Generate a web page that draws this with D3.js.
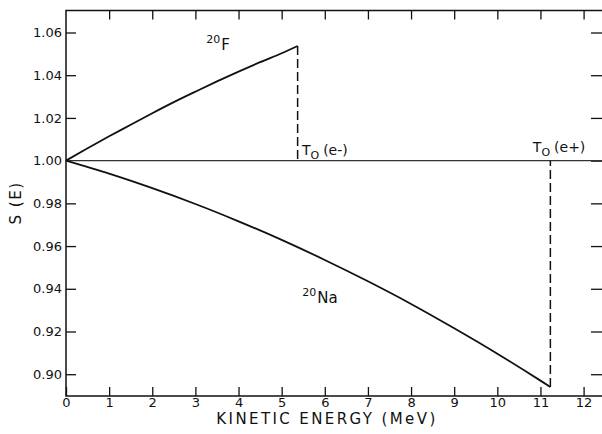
<!DOCTYPE html>
<html>
<head>
<meta charset="utf-8">
<script src="https://cdn.jsdelivr.net/npm/d3@7"></script>
<style>
  body { margin: 0; background: #fff; }
  svg { display: block; }
  text { font-family: "DejaVu Sans", sans-serif; fill: #111; }
</style>
</head>
<body>
<svg width="602" height="434"></svg>
<script>
// Data.
const xTicks = [0, 1, 2, 3, 4, 5, 6, 7, 8, 9, 10, 11, 12];
const yTicks = [0.90, 0.92, 0.94, 0.96, 0.98, 1.00, 1.02, 1.04, 1.06];

// 20F curve (electron emission), ends at T0(e-)
const fE = [0, 0.5, 1, 1.5, 2, 2.5, 3, 3.5, 4, 4.5, 5, 5.37];
const fS = [1.000, 1.0058, 1.0114, 1.0168, 1.0222, 1.0274, 1.0323, 1.0371, 1.0417, 1.0461, 1.0503, 1.0537];

// 20Na curve (positron emission), ends at T0(e+)
const naE = [0, 1, 2, 3, 4, 5, 6, 7, 8, 9, 10, 11, 11.23];
const naS = [1.000, 0.9939, 0.9871, 0.9797, 0.9716, 0.9629, 0.9535, 0.9435, 0.9329, 0.9215, 0.9096, 0.8970, 0.8940];

const svg = d3.select("svg");
const plotLeft = 66, plotRight = 603, plotTop = 10.5, plotBottom = 396;

const x = d3.scaleLinear().domain([0, 12.45]).range([plotLeft, plotRight]);
const y = d3.scaleLinear().domain([0.8898, 1.0703]).range([plotBottom, plotTop]);

const ink = "#111";

// Frame
svg.append("rect")
   .attr("x", plotLeft).attr("y", plotTop)
   .attr("width", plotRight - plotLeft).attr("height", plotBottom - plotTop)
   .attr("fill", "none").attr("stroke", ink).attr("stroke-width", 1.5);

// Bottom axis, ticks pointing inward
const xAxis = svg.append("g")
   .attr("transform", `translate(0,${plotBottom})`)
   .call(d3.axisBottom(x).tickValues(xTicks).tickSize(-9).tickPadding(2).tickFormat(d3.format("d")));
// Top ticks
const xTop = svg.append("g")
   .attr("transform", `translate(0,${plotTop})`)
   .call(d3.axisTop(x).tickValues(xTicks.slice(1)).tickSize(-9).tickFormat(""));
// Left axis
const yAxis = svg.append("g")
   .attr("transform", `translate(${plotLeft},0)`)
   .call(d3.axisLeft(y).tickValues(yTicks).tickSize(-10).tickPadding(4).tickFormat(d3.format(".2f")));
// Right ticks
const yRight = svg.append("g")
   .attr("transform", `translate(${plotRight},0)`)
   .call(d3.axisRight(y).tickValues(yTicks).tickSize(-12).tickFormat(""));

[xAxis, xTop, yAxis, yRight].forEach(g => {
  g.select(".domain").remove();
  g.attr("font-size", null).attr("font-family", null);
  g.selectAll("line").attr("stroke", ink).attr("stroke-width", 1.3);
  g.selectAll("text")
   .style("font-family", "DejaVu Sans, sans-serif")
   .style("font-size", "13px")
   .attr("fill", ink);
});
yAxis.selectAll(".tick").filter(d => d === 1.00).select("line").remove();

// Reference line S = 1
svg.append("line")
   .attr("x1", x(0)).attr("x2", plotRight)
   .attr("y1", y(1)).attr("y2", y(1))
   .attr("stroke", "#333").attr("stroke-width", 1.3);

const line = d3.line().x(d => x(d[0])).y(d => y(d[1])).curve(d3.curveMonotoneX);

svg.append("path")
   .datum(d3.zip(fE, fS))
   .attr("d", line)
   .attr("fill", "none").attr("stroke", ink).attr("stroke-width", 1.8);

svg.append("path")
   .datum(d3.zip(naE, naS))
   .attr("d", line)
   .attr("fill", "none").attr("stroke", ink).attr("stroke-width", 1.8);

// Endpoint dashed lines
[[fE[fE.length - 1], fS[fS.length - 1]], [naE[naE.length - 1], naS[naS.length - 1]]].forEach(p => {
  svg.append("line")
     .attr("x1", x(p[0])).attr("x2", x(p[0]))
     .attr("y1", y(p[1])).attr("y2", y(1))
     .attr("stroke", ink).attr("stroke-width", 1.5)
     .attr("stroke-dasharray", "9,4");
});

// Curve labels
function isotope(px, py, mass, sym) {
  const t = svg.append("text").attr("x", px).attr("y", py).style("font-size", "15px");
  t.append("tspan").text(mass).style("font-size", "11px").attr("dy", -7);
  t.append("tspan").text(sym).attr("dy", 7).attr("dx", 1);
}
isotope(x(3.25), 50, "20", "F");
isotope(x(5.48), 303, "20", "Na");

function endpoint(px, py, sign) {
  const t = svg.append("text").attr("x", px).attr("y", py).style("font-size", "14px");
  t.append("tspan").text("T");
  t.append("tspan").text("O").style("font-size", "11px").attr("dy", 4);
  t.append("tspan").text("(e" + sign + ")").attr("dy", -4).attr("dx", 4);
}
endpoint(x(5.4) + 3, 155, "-");
endpoint(x(10.8) + 1, 152, "+");

// Axis titles
svg.append("text")
   .attr("x", 327).attr("y", 424)
   .attr("text-anchor", "middle")
   .style("font-size", "15px")
   .style("letter-spacing", "2.4px")
   .text("KINETIC ENERGY (MeV)");

svg.append("text")
   .attr("transform", "translate(21,203) rotate(-90)")
   .attr("text-anchor", "middle")
   .style("font-size", "15px")
   .style("letter-spacing", "1.5px")
   .text("S (E)");
</script>
</body>
</html>
